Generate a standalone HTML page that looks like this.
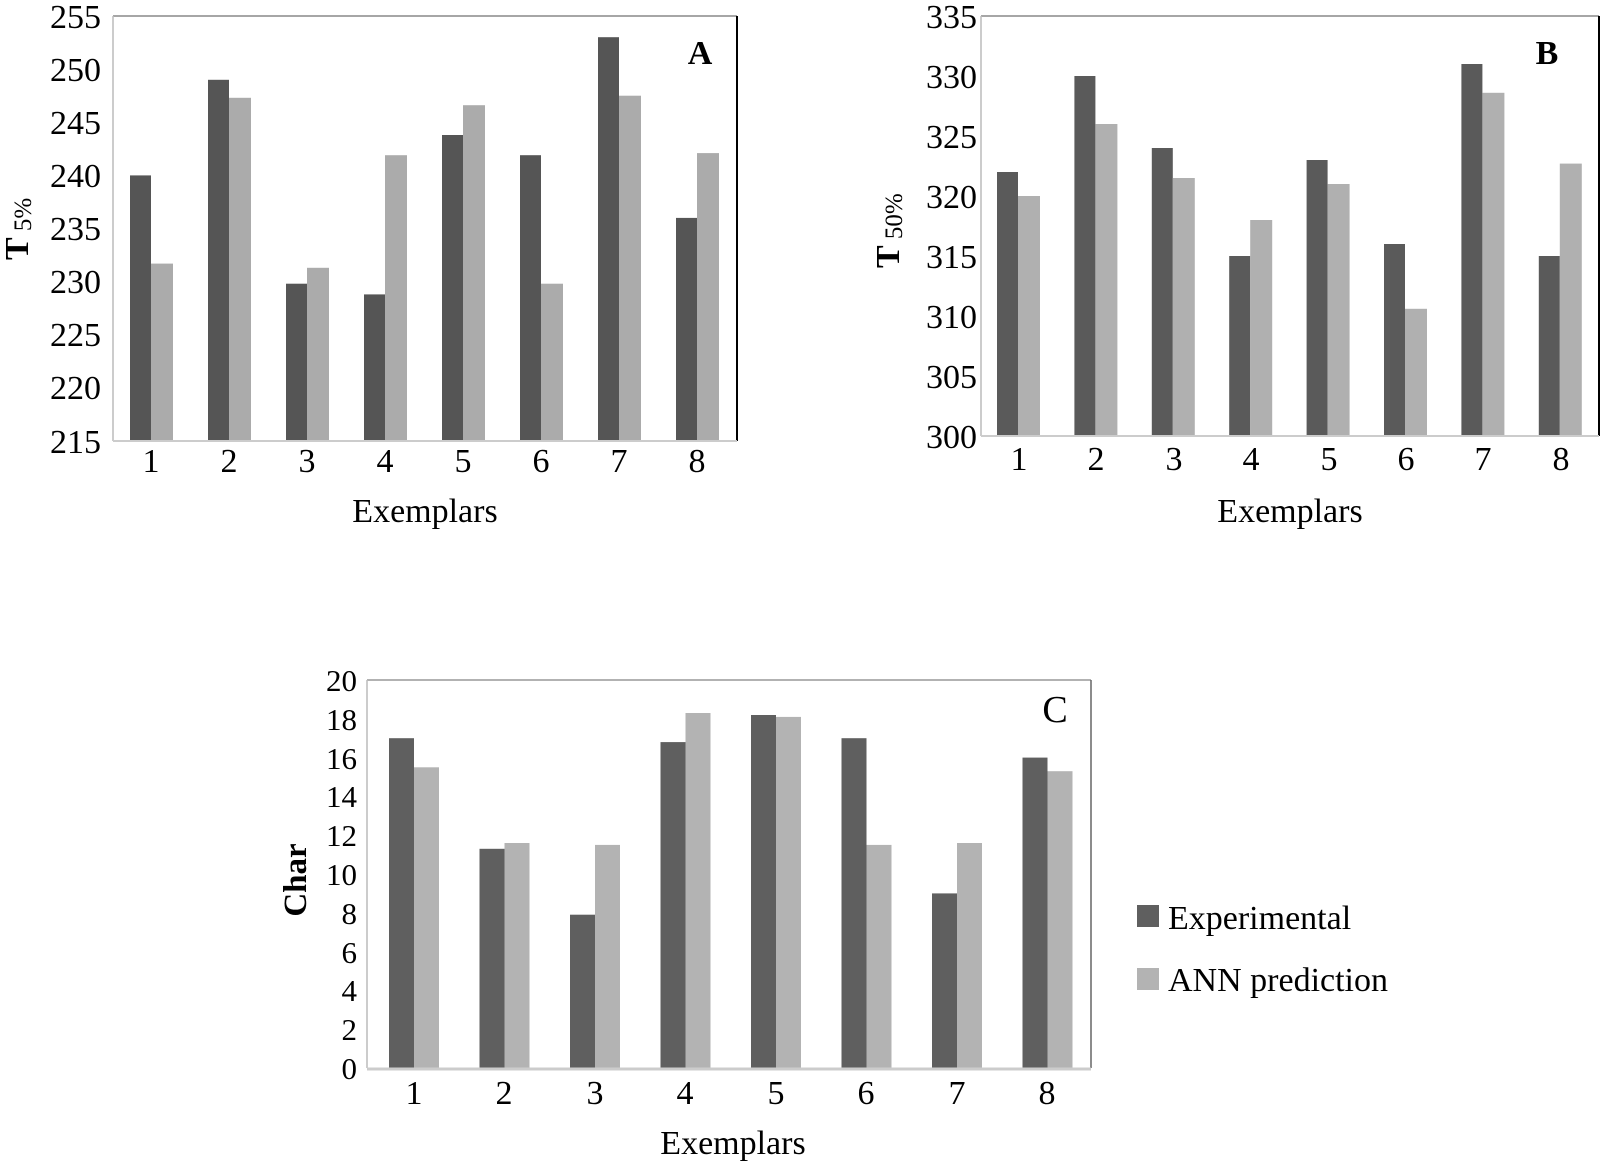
<!DOCTYPE html>
<html><head><meta charset="utf-8"><style>
html,body{margin:0;padding:0;background:#fff;}
svg{display:block;}
text{font-family:"Liberation Serif",serif;fill:#000;}
</style></head><body>
<svg width="1601" height="1162" viewBox="0 0 1601 1162" xmlns="http://www.w3.org/2000/svg">
<!-- Chart A -->
<g>
<line x1="113" y1="16" x2="737" y2="16" stroke="#888" stroke-width="1.5"/>
<line x1="113" y1="16" x2="113" y2="441" stroke="#bbb" stroke-width="1.5"/>
<line x1="737" y1="16" x2="737" y2="441" stroke="#000" stroke-width="2"/>
<g fill="#555">
<rect x="130" y="175.4" width="21" height="265.6"/>
<rect x="208" y="79.8" width="21" height="361.2"/>
<rect x="286" y="283.7" width="21" height="157.3"/>
<rect x="364" y="294.4" width="21" height="146.6"/>
<rect x="442" y="135" width="21" height="306"/>
<rect x="520" y="155.2" width="21" height="285.8"/>
<rect x="598" y="37.2" width="21" height="403.8"/>
<rect x="676" y="217.9" width="21" height="223.1"/>
</g>
<g fill="#ababab">
<rect x="151" y="263.6" width="22" height="177.4"/>
<rect x="229" y="97.8" width="22" height="343.2"/>
<rect x="307" y="267.8" width="22" height="173.2"/>
<rect x="385" y="155.2" width="22" height="285.8"/>
<rect x="463" y="105.2" width="22" height="335.8"/>
<rect x="541" y="283.7" width="22" height="157.3"/>
<rect x="619" y="95.7" width="22" height="345.3"/>
<rect x="697" y="153.1" width="22" height="287.9"/>
</g>
<line x1="113" y1="441" x2="737" y2="441" stroke="#ccc" stroke-width="2"/>
<g font-size="34" text-anchor="end">
<text x="101" y="28">255</text><text x="101" y="81">250</text><text x="101" y="134">245</text><text x="101" y="187">240</text><text x="101" y="240">235</text><text x="101" y="293">230</text><text x="101" y="346">225</text><text x="101" y="399">220</text><text x="101" y="453">215</text>
</g>
<g font-size="34" text-anchor="middle">
<text x="151" y="472">1</text><text x="229" y="472">2</text><text x="307" y="472">3</text><text x="385" y="472">4</text><text x="463" y="472">5</text><text x="541" y="472">6</text><text x="619" y="472">7</text><text x="697" y="472">8</text>
<text x="425" y="522">Exemplars</text>
</g>
<text x="700" y="64" font-size="34" font-weight="bold" text-anchor="middle">A</text>
<text transform="translate(28,260) rotate(-90)" font-size="34"><tspan font-weight="bold">T</tspan><tspan font-size="25" dy="3"> 5%</tspan></text>
</g>

<!-- Chart B -->
<g>
<line x1="981" y1="16" x2="1599" y2="16" stroke="#888" stroke-width="1.5"/>
<line x1="981" y1="16" x2="981" y2="436" stroke="#bbb" stroke-width="1.5"/>
<line x1="1599" y1="16" x2="1599" y2="436" stroke="#000" stroke-width="2"/>
<g fill="#5a5a5a">
<rect x="997" y="172" width="21" height="264"/>
<rect x="1074.4" y="76" width="21" height="360"/>
<rect x="1151.8" y="148" width="21" height="288"/>
<rect x="1229.2" y="256" width="21" height="180"/>
<rect x="1306.6" y="160" width="21" height="276"/>
<rect x="1384" y="244" width="21" height="192"/>
<rect x="1461.4" y="64" width="21" height="372"/>
<rect x="1538.8" y="256" width="21" height="180"/>
</g>
<g fill="#b0b0b0">
<rect x="1018" y="196" width="22" height="240"/>
<rect x="1095.4" y="124" width="22" height="312"/>
<rect x="1172.8" y="178" width="22" height="258"/>
<rect x="1250.2" y="220" width="22" height="216"/>
<rect x="1327.6" y="184" width="22" height="252"/>
<rect x="1405" y="308.8" width="22" height="127.2"/>
<rect x="1482.4" y="92.8" width="22" height="343.2"/>
<rect x="1559.8" y="163.6" width="22" height="272.4"/>
</g>
<line x1="981" y1="436" x2="1599" y2="436" stroke="#ccc" stroke-width="2"/>
<g font-size="34" text-anchor="end">
<text x="977" y="28">335</text><text x="977" y="88">330</text><text x="977" y="148">325</text><text x="977" y="208">320</text><text x="977" y="268">315</text><text x="977" y="328">310</text><text x="977" y="388">305</text><text x="977" y="448">300</text>
</g>
<g font-size="34" text-anchor="middle">
<text x="1019" y="470">1</text><text x="1096" y="470">2</text><text x="1174" y="470">3</text><text x="1251" y="470">4</text><text x="1329" y="470">5</text><text x="1406" y="470">6</text><text x="1483" y="470">7</text><text x="1561" y="470">8</text>
<text x="1290" y="522">Exemplars</text>
</g>
<text x="1547" y="64" font-size="34" font-weight="bold" text-anchor="middle">B</text>
<text transform="translate(899,268) rotate(-90)" font-size="34"><tspan font-weight="bold">T</tspan><tspan font-size="25" dy="3"> 50%</tspan></text>
</g>

<!-- Chart C -->
<g>
<line x1="367" y1="680" x2="1091" y2="680" stroke="#999" stroke-width="1.5"/>
<line x1="367" y1="680" x2="367" y2="1068" stroke="#bbb" stroke-width="1.5"/>
<line x1="1091" y1="680" x2="1091" y2="1068" stroke="#666" stroke-width="1.5"/>
<g fill="#5f5f5f">
<rect x="389" y="738.2" width="25" height="329.8"/>
<rect x="479.5" y="848.8" width="25" height="219.2"/>
<rect x="570" y="914.7" width="25" height="153.3"/>
<rect x="660.5" y="742.1" width="25" height="325.9"/>
<rect x="751" y="715" width="25" height="353"/>
<rect x="841.5" y="738.2" width="25" height="329.8"/>
<rect x="932" y="893.4" width="25" height="174.6"/>
<rect x="1022.5" y="757.6" width="25" height="310.4"/>
</g>
<g fill="#b3b3b3">
<rect x="414" y="767.3" width="25" height="300.7"/>
<rect x="504.5" y="843" width="25" height="225"/>
<rect x="595" y="844.9" width="25" height="223.1"/>
<rect x="685.5" y="713" width="25" height="355"/>
<rect x="776" y="716.9" width="25" height="351.1"/>
<rect x="866.5" y="844.9" width="25" height="223.1"/>
<rect x="957" y="843" width="25" height="225"/>
<rect x="1047.5" y="771.2" width="25" height="296.8"/>
</g>
<line x1="367" y1="1069" x2="1091" y2="1069" stroke="#ccc" stroke-width="3"/>
<g font-size="31" text-anchor="end">
<text x="357" y="691">20</text><text x="357" y="730">18</text><text x="357" y="769">16</text><text x="357" y="807">14</text><text x="357" y="846">12</text><text x="357" y="885">10</text><text x="357" y="924">8</text><text x="357" y="963">6</text><text x="357" y="1001">4</text><text x="357" y="1040">2</text><text x="357" y="1079">0</text>
</g>
<g font-size="34" text-anchor="middle">
<text x="414" y="1104">1</text><text x="504" y="1104">2</text><text x="595" y="1104">3</text><text x="685" y="1104">4</text><text x="776" y="1104">5</text><text x="866" y="1104">6</text><text x="957" y="1104">7</text><text x="1047" y="1104">8</text>
<text x="733" y="1154">Exemplars</text>
</g>
<text x="1055" y="722" font-size="38" text-anchor="middle">C</text>
<text transform="translate(306,880) rotate(-90)" font-size="33" font-weight="bold" text-anchor="middle">Char</text>
<rect x="1137" y="905" width="22" height="22" fill="#5f5f5f"/>
<rect x="1137" y="968" width="22" height="22" fill="#b3b3b3"/>
<text x="1168" y="929" font-size="34">Experimental</text>
<text x="1168" y="991" font-size="34">ANN prediction</text>
</g>
</svg>
</body></html>
